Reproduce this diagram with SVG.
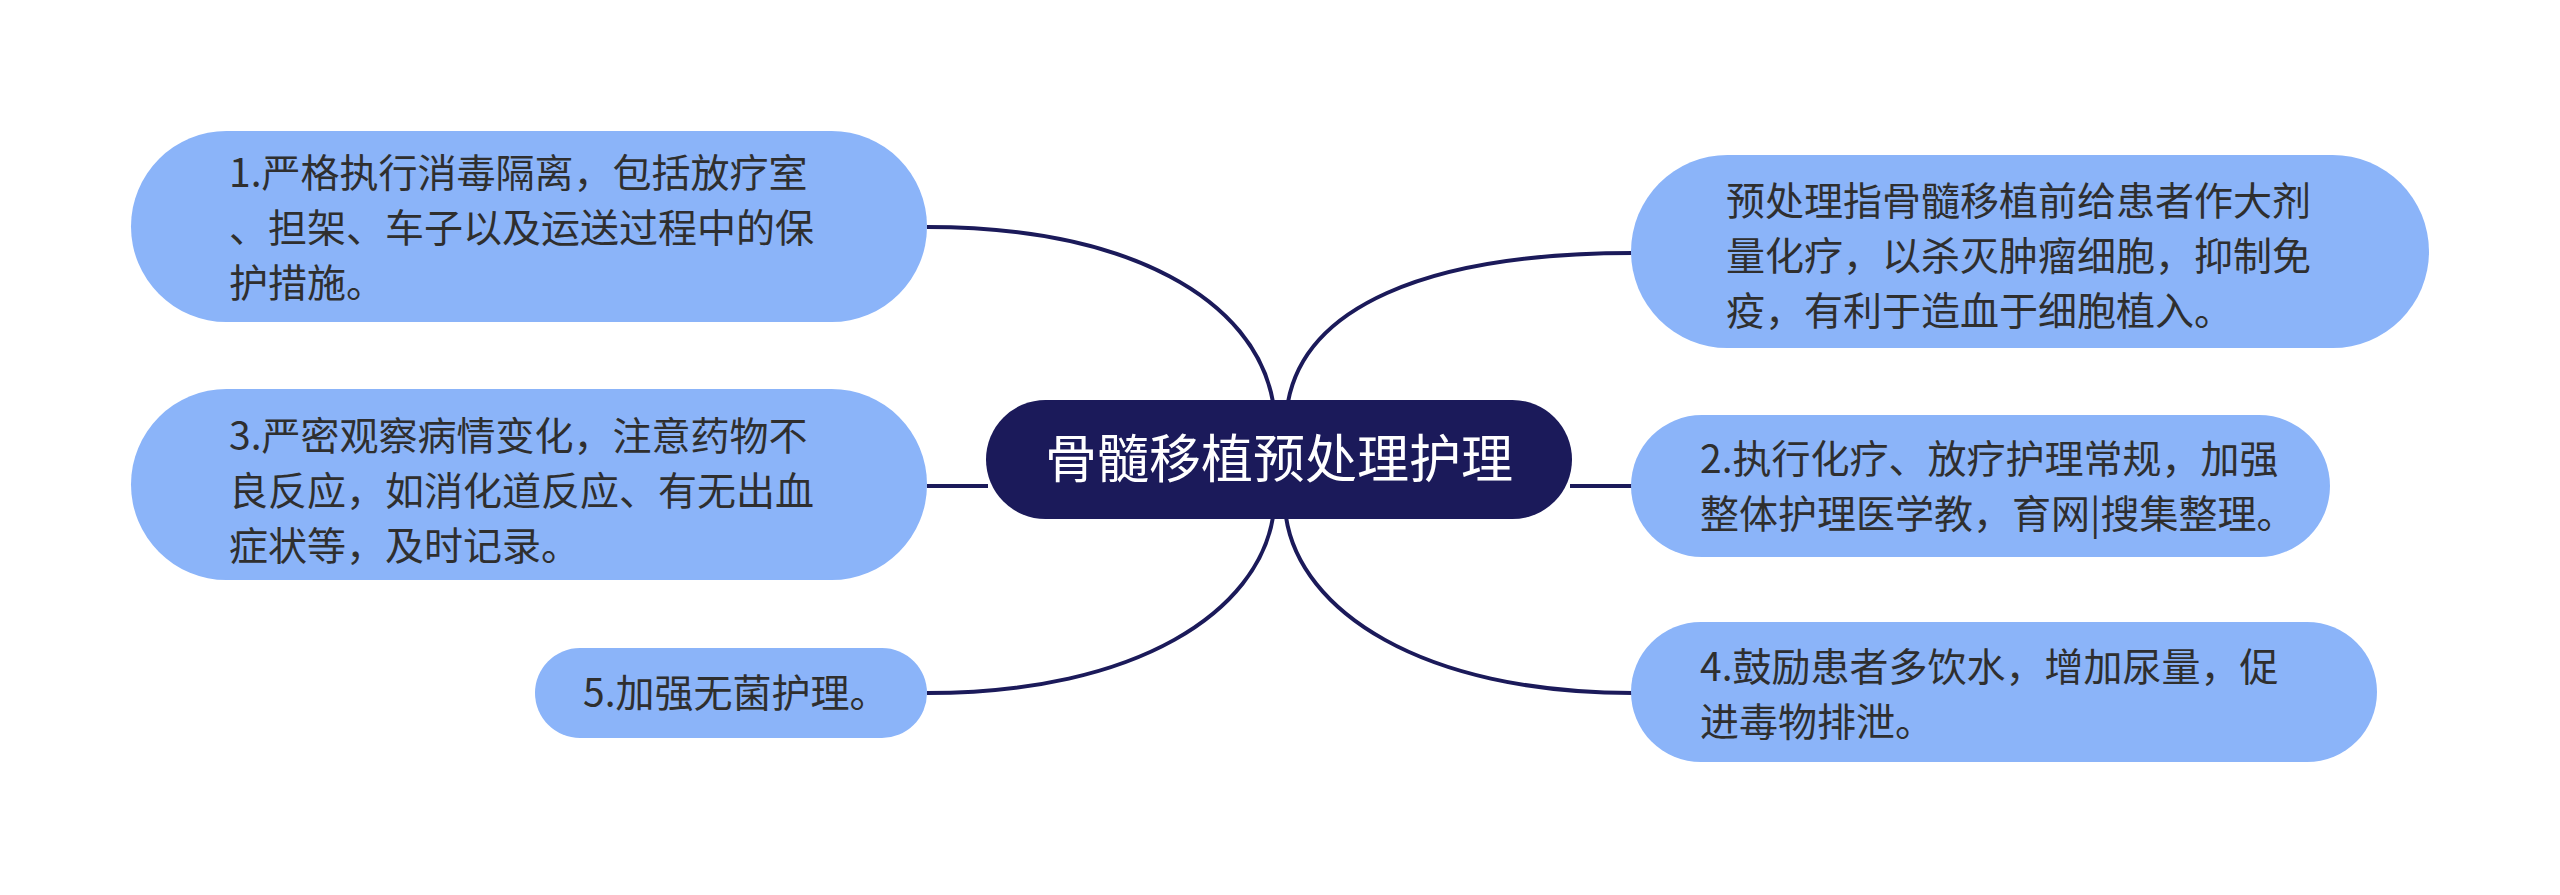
<svg xmlns="http://www.w3.org/2000/svg" width="2560" height="895" viewBox="0 0 2560 895">
<style>
.node{fill:#8bb4f9;}
.t{font-family:"Noto Sans CJK SC","Noto Sans",sans-serif;font-size:39px;fill:#2f2f2f;}
.ct{font-family:"Noto Sans CJK SC","Noto Sans",sans-serif;font-size:52px;fill:#ffffff;text-anchor:middle;}
.edge{fill:none;stroke:#1b1a5a;stroke-width:4;}
</style>
<rect width="2560" height="895" fill="#ffffff"/>
<g id="connectors">
<path class="edge" d="M927 227 C1130 227 1255 300 1273 402"/>
<path class="edge" d="M1288 402 C1305 310 1420 253 1633 253"/>
<path class="edge" d="M927 486 L988 486"/>
<path class="edge" d="M1570 486 L1633 486"/>
<path class="edge" d="M1273 517 C1258 610 1140 693 927 693"/>
<path class="edge" d="M1286 517 C1300 610 1420 693 1633 693"/>
</g>
<g id="center">
<rect x="986" y="400" width="586" height="119" rx="59.5" fill="#1b1a5a"/>
<text class="ct" x="1279" y="478">骨髓移植预处理护理</text>
</g>
<g id="node1">
<rect class="node" x="131" y="131" width="796" height="191" rx="95.5"/>
<text class="t" x="229" y="187">1.严格执行消毒隔离，包括放疗室</text>
<text class="t" x="229" y="242">、担架、车子以及运送过程中的保</text>
<text class="t" x="229" y="297">护措施。</text>
</g>
<g id="node3">
<rect class="node" x="131" y="389" width="796" height="191" rx="95.5"/>
<text class="t" x="229" y="450">3.严密观察病情变化，注意药物不</text>
<text class="t" x="229" y="505">良反应，如消化道反应、有无出血</text>
<text class="t" x="229" y="560">症状等，及时记录。</text>
</g>
<g id="node5">
<rect class="node" x="535" y="648" width="392" height="90" rx="45"/>
<text class="t" x="583" y="707">5.加强无菌护理。</text>
</g>
<g id="nodeA">
<rect class="node" x="1631" y="155" width="798" height="193" rx="96.5"/>
<text class="t" x="1726" y="215">预处理指骨髓移植前给患者作大剂</text>
<text class="t" x="1726" y="270">量化疗，以杀灭肿瘤细胞，抑制免</text>
<text class="t" x="1726" y="325">疫，有利于造血于细胞植入。</text>
</g>
<g id="node2">
<rect class="node" x="1631" y="415" width="699" height="142" rx="71"/>
<text class="t" x="1700" y="473">2.执行化疗、放疗护理常规，加强</text>
<text class="t" x="1700" y="528">整体护理医学教，育网|搜集整理。</text>
</g>
<g id="node4">
<rect class="node" x="1631" y="622" width="746" height="140" rx="70"/>
<text class="t" x="1700" y="681">4.鼓励患者多饮水，增加尿量，促</text>
<text class="t" x="1700" y="736">进毒物排泄。</text>
</g>
</svg>
